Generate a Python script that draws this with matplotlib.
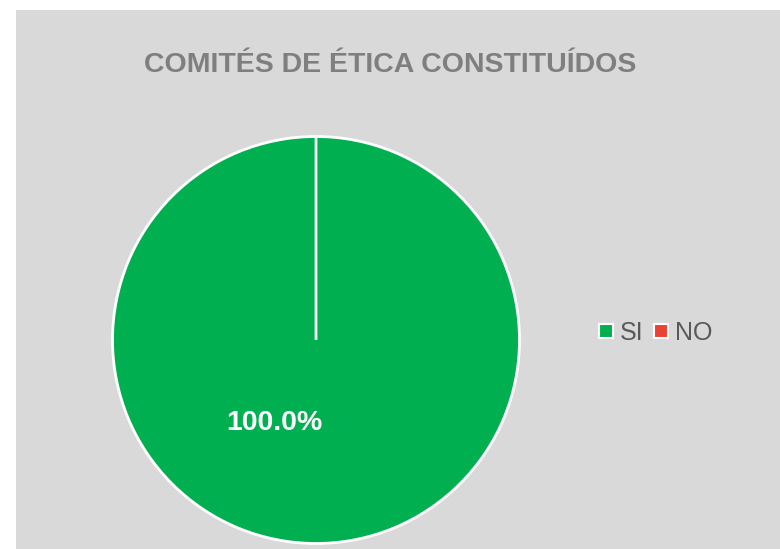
import matplotlib
matplotlib.use("Agg")
import matplotlib.pyplot as plt
from matplotlib.patches import Rectangle, Patch
import numpy as np

plt.rcParams['font.family'] = ['Liberation Sans', 'DejaVu Sans']

# Data
categories = ["SI", "NO"]
values = [100, 0]
colors = ["#00b050", "#ea4335"]
title = "COMITÉS DE ÉTICA CONSTITUÍDOS"

W, H = 780, 549
fig = plt.figure(figsize=(W / 100, H / 100), dpi=100)
fig.patch.set_facecolor("white")
fig.patches.append(Rectangle((16 / W, 0), 1 - 16 / W, (H - 10) / H,
                             transform=fig.transFigure, facecolor="#d9d9d9",
                             edgecolor="none", zorder=-1))

# pie axes: center (316, 340) px from top-left, radius ~203.5 px
cx, cy, r = 316, 340, 203.5
ax = fig.add_axes([(cx - r) / W, (H - cy - r) / H, 2 * r / W, 2 * r / H])
ax.set_facecolor("none")
ax.patch.set_visible(False)

wedges, texts, autotexts = ax.pie(
    values, colors=colors, startangle=90, counterclock=False,
    autopct=lambda p: f"{p:.1f}%" if p > 0 else "",
    wedgeprops=dict(edgecolor="white", linewidth=2),
    textprops=dict(color="white", fontsize=20.5, fontweight="bold"),
)
ax.set_xlim(-1, 1)
ax.set_ylim(-1, 1)
ax.set_aspect("equal")
ax.axis("off")

# Excel-like label position
ang = np.deg2rad(243.5)
dist = 0.455
autotexts[0].set_position((dist * np.cos(ang), dist * np.sin(ang)))

fig.text(390.5 / W, 1 - 72 / H, title, ha="center", va="baseline",
         fontsize=20.5, fontweight="bold", color="#7f7f7f")

handles = [Patch(facecolor=c, edgecolor="white", linewidth=1.5) for c in colors]
leg = fig.legend(handles, categories, loc="center left",
                 bbox_to_anchor=(599 / W, 1 - 333 / H), frameon=False,
                 fontsize=18, ncol=2, handlelength=0.55, handleheight=0.45,
                 handletextpad=0.3, columnspacing=0.4, borderpad=0,
                 borderaxespad=0)
for t in leg.get_texts():
    t.set_color("#595959")

fig.savefig("out.png", dpi=100, facecolor=fig.get_facecolor())
